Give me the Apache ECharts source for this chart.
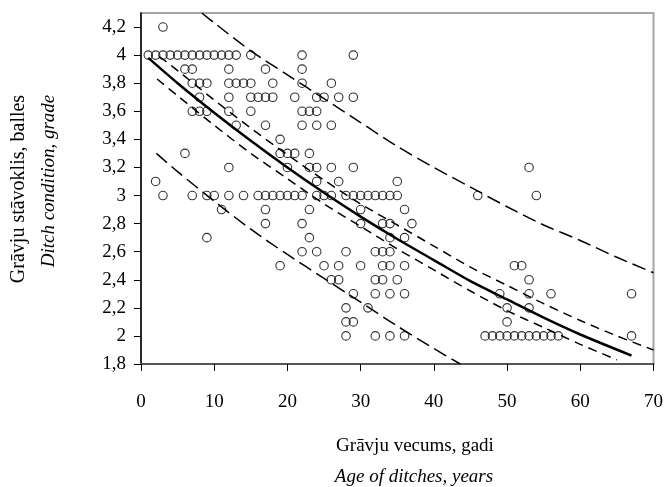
<!DOCTYPE html>
<html>
<head>
<meta charset="utf-8">
<script src="https://cdn.jsdelivr.net/npm/echarts@6/dist/echarts.min.js"></script>
<style>html,body{margin:0;padding:0;background:#fff}#c{width:666px;height:487px}</style>
</head>
<body>
<div id="c"></div>
<script>
// Observations: age of ditch (years) and condition grade
const pointAges = [
  3,
  1,2,3,4,5,6,7,8,9,10,11,12,13,15,22,29,
  6,7,12,17,22,
  7,8,9,12,13,14,15,18,22,26,
  8,12,15,16,17,18,21,24,25,27,29,
  7,8,9,12,15,22,23,24,
  13,17,22,24,26,
  19,
  6,19,20,21,23,
  12,20,23,24,26,29,53,
  2,24,27,35,
  3,7,9,10,12,14,16,17,18,19,20,21,22,24,25,26,28,29,30,31,32,33,34,35,46,54,
  11,17,23,30,36,
  17,22,30,33,34,37,
  9,23,34,36,
  22,24,28,32,33,34,
  19,25,27,30,33,34,36,51,52,
  26,27,32,33,35,53,
  29,32,34,36,49,53,56,67,
  28,31,50,53,
  28,29,50,
  28,32,34,36,47,48,49,50,51,52,53,54,55,56,57,67
];
const pointGrades = [
  4.2,
  4,4,4,4,4,4,4,4,4,4,4,4,4,4,4,4,
  3.9,3.9,3.9,3.9,3.9,
  3.8,3.8,3.8,3.8,3.8,3.8,3.8,3.8,3.8,3.8,
  3.7,3.7,3.7,3.7,3.7,3.7,3.7,3.7,3.7,3.7,3.7,
  3.6,3.6,3.6,3.6,3.6,3.6,3.6,3.6,
  3.5,3.5,3.5,3.5,3.5,
  3.4,
  3.3,3.3,3.3,3.3,3.3,
  3.2,3.2,3.2,3.2,3.2,3.2,3.2,
  3.1,3.1,3.1,3.1,
  3,3,3,3,3,3,3,3,3,3,3,3,3,3,3,3,3,3,3,3,3,3,3,3,3,3,
  2.9,2.9,2.9,2.9,2.9,
  2.8,2.8,2.8,2.8,2.8,2.8,
  2.7,2.7,2.7,2.7,
  2.6,2.6,2.6,2.6,2.6,2.6,
  2.5,2.5,2.5,2.5,2.5,2.5,2.5,2.5,2.5,
  2.4,2.4,2.4,2.4,2.4,2.4,
  2.3,2.3,2.3,2.3,2.3,2.3,2.3,2.3,
  2.2,2.2,2.2,2.2,
  2.1,2.1,2.1,
  2,2,2,2,2,2,2,2,2,2,2,2,2,2,2,2
];

// Regression curve
const fitX = [1,5,10,15,20,25,30,35,40,45,50,55,60,67];
const fitY = [3.98,3.80,3.59,3.39,3.20,3.02,2.85,2.69,2.54,2.39,2.26,2.13,2.01,1.86];
// Inner band (confidence)
const ciUpX = [2.5,5,10,15,20,25,30,35,40,45,50,55,60,65,70];
const ciUpY = [3.99,3.89,3.68,3.48,3.29,3.11,2.94,2.79,2.64,2.49,2.36,2.23,2.11,2.00,1.90];
const ciLoX = [2.2,5,10,15,20,25,30,35,40,45,50,55,60,65];
const ciLoY = [3.83,3.71,3.50,3.30,3.12,2.94,2.78,2.62,2.47,2.32,2.18,2.06,1.94,1.83];
// Outer band (prediction)
const piUpX = [8.3,10,15,20,25,30,35,40,45,50,55,60,65,70];
const piUpY = [4.30,4.23,4.03,3.86,3.69,3.52,3.35,3.20,3.06,2.92,2.79,2.68,2.56,2.45];
const piLoX = [2.1,5,10,15,20,25,30,35,40,43.6];
const piLoY = [3.30,3.17,2.96,2.76,2.58,2.41,2.24,2.07,1.91,1.80];

// Tick labels
const xTicks = [0,10,20,30,40,50,60,70];
const yTicks = [1.8,2,2.2,2.4,2.6,2.8,3,3.2,3.4,3.6,3.8,4,4.2];

const xTitle1 = 'Grāvju vecums, gadi';
const xTitle2 = 'Age of ditches, years';
const yTitle1 = 'Grāvju stāvoklis, balles';
const yTitle2 = 'Ditch condition, grade';

const FONT = '"Liberation Serif", "DejaVu Serif", serif';
const zip = (xs, ys) => xs.map((x, i) => [x, ys[i]]);
const fmt = v => String(Math.round(v * 10) / 10).replace('.', ',');

const lineSeries = (xs, ys, width, dash, z) => ({
  type: 'line', data: zip(xs, ys), smooth: 0.3, showSymbol: false, symbol: 'none',
  lineStyle: { color: '#000', width: width, type: dash }, z: z, silent: true, clip: true
});

const chart = echarts.init(document.getElementById('c'), null, { renderer: 'canvas' });
chart.setOption({
  animation: false,
  backgroundColor: '#fff',
  grid: { left: 141, right: 11, top: 13, bottom: 123, show: true, borderColor: '#a6a6a6', borderWidth: 2, backgroundColor: 'transparent' },
  xAxis: {
    type: 'value', min: 0, max: 70, interval: 10,
    axisLine: { show: true, onZero: false, lineStyle: { color: '#555', width: 2 } },
    axisTick: { show: true, length: 7, inside: false, lineStyle: { color: '#000', width: 1 }, customValues: xTicks },
    axisLabel: { customValues: xTicks, margin: 29, color: '#000', fontFamily: FONT, fontSize: 19, formatter: v => String(v) },
    splitLine: { show: false }
  },
  yAxis: {
    type: 'value', min: 1.8, max: 4.3,
    axisLine: { show: true, onZero: false, lineStyle: { color: '#000', width: 1.5 } },
    axisTick: { show: true, length: 7, inside: false, lineStyle: { color: '#000', width: 1 }, customValues: yTicks },
    axisLabel: { customValues: yTicks, margin: 15, color: '#000', fontFamily: FONT, fontSize: 19, formatter: fmt },
    splitLine: { show: false }
  },
  graphic: [
    { type: 'text', x: 415, y: 446, style: { text: xTitle1, font: '19px ' + FONT, fill: '#000', align: 'center', verticalAlign: 'middle' } },
    { type: 'text', x: 414, y: 477, style: { text: xTitle2, font: 'italic 19px ' + FONT, fill: '#000', align: 'center', verticalAlign: 'middle' } },
    { type: 'text', x: 19, y: 189, rotation: Math.PI / 2, style: { text: yTitle1, font: '20px ' + FONT, fill: '#000', align: 'center', verticalAlign: 'middle' } },
    { type: 'text', x: 49, y: 181, rotation: Math.PI / 2, style: { text: yTitle2, font: 'italic 19px ' + FONT, fill: '#000', align: 'center', verticalAlign: 'middle' } }
  ],
  series: [
    lineSeries(piUpX, piUpY, 1.5, [14, 6], 2),
    lineSeries(piLoX, piLoY, 1.5, [14, 6], 2),
    lineSeries(ciUpX, ciUpY, 1.5, [9, 6], 2),
    lineSeries(ciLoX, ciLoY, 1.5, [9, 6], 2),
    lineSeries(fitX, fitY, 2.5, 'solid', 3),
    {
      type: 'scatter', data: zip(pointAges, pointGrades), symbol: 'circle', symbolSize: 8.5,
      itemStyle: { color: 'rgba(0,0,0,0)', borderColor: '#000', borderWidth: 1.1 }, z: 4, silent: true
    }
  ]
});
</script>
</body>
</html>
